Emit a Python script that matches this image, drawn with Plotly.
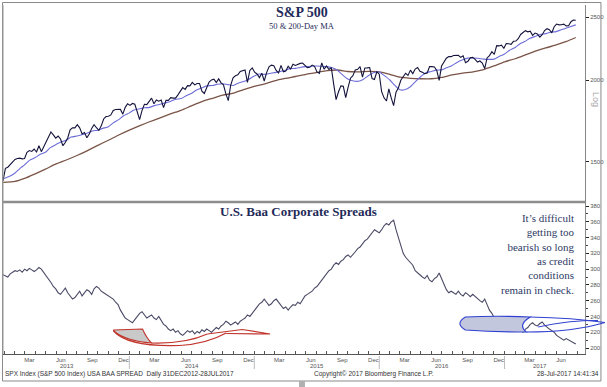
import pandas as pd
import plotly.graph_objects as go

# ---------------- data ----------------
spx_2012 = [1402]
spx_2013 = [1466,1472,1486,1503,1513,1518,1520,1516,1518,1551,1561,1556,1569,1553,1588,1555,1582,1614,1633,1667,1650,1631,1643,1626,1588,1606,1632,1680,1692,1691,1710,1691,1655,1664,1633,1655,1688,1710,1692,1676,1703,1745,1760,1762,1770,1798,1804,1806,1805,1775,1818,1841]
spx_2014 = [1831,1843,1838,1790,1741,1797,1838,1836,1859,1878,1841,1866,1858,1865,1816,1864,1863,1881,1878,1878,1900,1924,1949,1937,1963,1961,1985,1968,1978,1978,1925,1909,1955,1988,2003,2008,1985,2010,1982,1968,1906,1862,1965,2018,2032,2039,2064,2068,2075,1985,2071,2089]
spx_2015 = [2058,2045,2019,2051,1995,2055,2097,2110,2105,2071,2053,2108,2061,2067,2102,2081,2117,2108,2116,2123,2126,2107,2092,2094,2110,2101,2060,2050,2127,2080,2104,2078,2092,1971,1868,1921,1961,1958,1881,1951,2015,2033,2075,2079,2099,2023,2089,2090,2092,2012,2006,2061]
spx_2016 = [2044,1922,1880,1859,1940,1880,1829,1918,1948,2000,2022,2050,2035,2073,2048,2081,2092,2065,2057,2047,2052,2099,2099,2096,2071,2000,2103,2130,2162,2175,2174,2183,2184,2184,2169,2180,2128,2139,2165,2168,2153,2133,2141,2126,2085,2164,2182,2213,2192,2260,2258,2264,2239]
spx_2017 = [2277,2275,2271,2295,2297,2316,2351,2367,2383,2373,2378,2344,2363,2355,2329,2349,2384,2399,2391,2365,2416,2439,2432,2433,2438,2423,2425,2459,2473,2472]

baa_2012 = [293]
baa_2013 = [292,290,294,296, 298,297,299,296, 300,298,301,299,297, 299,302,300,296, 292,288,283,278,275, 270,268,272,276, 270,266,262,264, 268,272,266,270,274, 272,268,275,278, 276,272,270,268, 266,264,262,258,255, 248,242,238,236]
baa_2014 = [234,232,236,240,244, 246,242,238,240, 242,238,236,240, 235,230,228,224, 222,224,220,222,218, 216,219,222,220, 222,218,221,219, 223,221,224,222,220, 223,226,224,228, 230,234,232,229,231, 233,230,234,236, 238,242,240,244]
baa_2015 = [248,252,256,258,262, 258,254,256,260, 262,258,255,250, 252,248,252,255, 254,258,256,262,266, 268,270,272,276, 278,282,286,290,294, 298,300,305,308, 306,310,312,316, 318,315,318,322,326, 328,332,336,338, 342,346,350,348]
baa_2016 = [346,350,355,358,356, 360,362,350,340, 330,320,315,312, 308,305,298,295,292, 290,288,292,286, 284,288,290,295, 288,280,274,270,272, 270,268,272,268, 266,270,268,265,268, 265,262,260,258, 262,255,248,244, 238,232,230,234,236]
baa_2017 = [232,228,226,224, 222,225,222,220, 224,226,230,232,229, 228,231,233,229, 226,224,222,220, 216,214,212,210,212, 210,208,206,205]

ma50_dates = ["2012-12-28","2013-01-15","2013-02-01","2013-02-15","2013-03-01","2013-03-15","2013-04-01","2013-04-15","2013-05-01","2013-05-15","2013-06-01","2013-06-15","2013-07-01","2013-07-15","2013-08-01","2013-08-15","2013-09-01","2013-09-15","2013-10-01","2013-10-15","2013-11-01","2013-11-15","2013-12-01","2013-12-15",
              "2014-01-01","2014-01-15","2014-02-01","2014-02-15","2014-03-01","2014-03-15","2014-04-01","2014-04-15","2014-05-01","2014-05-15","2014-06-01","2014-06-15","2014-07-01","2014-07-15","2014-08-01","2014-08-15","2014-09-01","2014-09-15","2014-10-01","2014-10-15","2014-11-01","2014-11-15","2014-12-01","2014-12-15",
              "2015-01-01","2015-01-15","2015-02-01","2015-02-15","2015-03-01","2015-03-15","2015-04-01","2015-04-15","2015-05-01","2015-05-15","2015-06-01","2015-06-15","2015-07-01","2015-07-15","2015-08-01","2015-08-15","2015-09-01","2015-09-15","2015-10-01","2015-10-15","2015-11-01","2015-11-15","2015-12-01","2015-12-15",
              "2016-01-01","2016-01-15","2016-02-01","2016-02-15","2016-03-01","2016-03-15","2016-04-01","2016-04-15","2016-05-01","2016-05-15","2016-06-01","2016-06-15","2016-07-01","2016-07-15","2016-08-01","2016-08-15","2016-09-01","2016-09-15","2016-10-01","2016-10-15","2016-11-01","2016-11-15","2016-12-01","2016-12-15",
              "2017-01-01","2017-01-15","2017-02-01","2017-02-15","2017-03-01","2017-03-15","2017-04-01","2017-04-15","2017-05-01","2017-05-15","2017-06-01","2017-06-15","2017-07-01","2017-07-28"]
ma50_vals = [1413,1424,1442,1465,1484,1508,1523,1540,1552,1577,1595,1609,1619,1637,1643,1650,1661,1673,1677,1688,1698,1721,1741,1765,
             1783,1801,1809,1815,1818,1829,1838,1846,1856,1870,1875,1892,1909,1931,1948,1961,1964,1972,1976,1970,1964,1980,1991,2006,
             2030,2045,2042,2049,2055,2061,2072,2084,2086,2093,2099,2102,2103,2102,2099,2092,2072,2040,2009,1997,1993,2006,2034,2054,
             2060,2035,2002,1966,1935,1934,1955,1989,2025,2053,2063,2073,2075,2090,2108,2130,2150,2163,2164,2162,2155,2153,2155,2174,
             2195,2222,2245,2276,2293,2317,2336,2351,2358,2370,2375,2390,2405,2432]

ma200_dates = ["2012-12-28","2013-02-01","2013-03-01","2013-04-01","2013-05-01","2013-06-01","2013-07-01","2013-08-01","2013-09-01","2013-10-01","2013-11-01","2013-12-01",
               "2014-01-01","2014-02-01","2014-03-01","2014-04-01","2014-05-01","2014-06-01","2014-07-01","2014-08-01","2014-09-01","2014-10-01","2014-11-01","2014-12-01",
               "2015-01-01","2015-02-01","2015-03-01","2015-04-01","2015-05-01","2015-06-01","2015-07-01","2015-08-01","2015-09-01","2015-10-01","2015-11-01","2015-12-01",
               "2016-01-01","2016-02-01","2016-03-01","2016-04-01","2016-05-01","2016-06-01","2016-07-01","2016-08-01","2016-09-01","2016-10-01","2016-11-01","2016-12-01",
               "2017-01-01","2017-02-01","2017-03-01","2017-04-01","2017-05-01","2017-06-01","2017-07-01","2017-07-28"]
ma200_vals = [1395,1400,1415,1438,1462,1489,1510,1534,1561,1590,1619,1649,
              1678,1705,1728,1752,1776,1799,1827,1855,1877,1898,1911,1935,
              1957,1975,1996,2013,2027,2043,2055,2069,2074,2063,2061,2064,
              2061,2043,2022,2014,2011,2011,2021,2038,2051,2061,2077,2104,
              2134,2158,2185,2216,2242,2266,2294,2326]

years = [2013, 2014, 2015, 2016, 2017]
quarter_months = [("Mar", 3), ("Jun", 6), ("Sep", 9), ("Dec", 12)]
spx_ticks = [1500, 2000, 2500]
baa_ticks = [200, 220, 240, 260, 280, 300, 320, 340, 360, 380]

title_top = "S&P 500"
subtitle_top = "50 & 200-Day MA"
title_bottom = "U.S. Baa Corporate Spreads"
note_lines = ["It\u2019s difficult", "getting too", "bearish so long", "as credit", "conditions", "remain in check."]
footer_left = "SPX Index (S&P 500 Index) USA BAA SPREAD  Daily 31DEC2012-28JUL2017"
footer_mid = "Copyright\u00a9 2017 Bloomberg Finance L.P."
footer_right = "28-Jul-2017 14:41:34"

start_date = "2012-12-28"
end_date = "2017-07-28"

# ---------------- build ----------------
spx = spx_2012 + spx_2013 + spx_2014 + spx_2015 + spx_2016 + spx_2017
baa = baa_2012 + baa_2013 + baa_2014 + baa_2015 + baa_2016 + baa_2017
dates_spx = pd.date_range(start_date, periods=len(spx), freq="W-FRI")
dates_baa = pd.date_range(start_date, periods=len(baa), freq="W-FRI")

W, H = 607, 387
L, R, T, B = 3, 20, 5, 33
PW, PH = W - L - R, H - T - B
split = 152 / PH

def px(x, y):
    return f"{(x - L) / PW:.4f},{(H - B - y) / PH:.4f}"

def fy(y):
    return (H - B - y) / PH

def fx(x):
    return (x - L) / PW

fig = go.Figure()
fig.add_trace(go.Scatter(x=ma200_dates, y=ma200_vals, mode="lines", line=dict(color="#7a5447", width=1.3, shape="spline", smoothing=0.6), xaxis="x", yaxis="y", hoverinfo="skip"))
fig.add_trace(go.Scatter(x=ma50_dates, y=ma50_vals, mode="lines", line=dict(color="#6c6cd8", width=1.1, shape="spline", smoothing=0.6), xaxis="x", yaxis="y", hoverinfo="skip"))
fig.add_trace(go.Scatter(x=dates_spx, y=spx, mode="lines", line=dict(color="#14143c", width=1.1), xaxis="x", yaxis="y"))
fig.add_trace(go.Scatter(x=dates_baa, y=baa, mode="lines", line=dict(color="#4a4a66", width=1.1), xaxis="x2", yaxis="y2"))

xr = ["2012-12-28", "2017-08-24"]
tickvals, ticktext = [], []
for yv in years:
    for name, m in quarter_months:
        d = pd.Timestamp(yv, m, 15)
        if d <= pd.Timestamp(end_date):
            tickvals.append(d)
            ticktext.append(name)

axfont = dict(family="Liberation Sans", size=6, color="#555")
fig.update_layout(
    width=W, height=H, margin=dict(l=L, r=R, t=T, b=B),
    paper_bgcolor="white", plot_bgcolor="white", showlegend=False,
    xaxis=dict(domain=[0, 1], range=xr, type="date", anchor="y", matches="x2", showticklabels=False,
               showgrid=False, zeroline=False, showline=False, ticks=""),
    xaxis2=dict(domain=[0, 1], range=xr, type="date", anchor="y2", tickvals=tickvals, ticktext=ticktext,
                tickfont=axfont, ticks="", showgrid=False, zeroline=False, showline=True, linecolor="#555", linewidth=1,
                minor=dict(dtick="M1", tick0="2013-01-01", ticks="inside", ticklen=3, tickcolor="#555", showgrid=False),
                ticklabelstandoff=0),
    yaxis=dict(domain=[split, 1], type="log", range=[3.1146, 3.4164], side="right", anchor="x",
               tickvals=spx_ticks, ticktext=[str(v) for v in spx_ticks], tickfont=axfont,
               ticks="outside", ticklen=3, tickcolor="#222", showline=True, linecolor="#888", linewidth=1,
               showgrid=False, zeroline=False),
    yaxis2=dict(domain=[0, split], range=[192.4, 385.1], side="right", anchor="x2",
                tickvals=baa_ticks, ticktext=[str(v) for v in baa_ticks], tickfont=axfont,
                ticks="outside", ticklen=3, tickcolor="#222", showline=True, linecolor="#888", linewidth=1,
                minor=dict(dtick=10, ticks="outside", ticklen=2, tickcolor="#444"),
                showgrid=False, zeroline=False),
)

shapes = []
shapes.append(dict(type="rect", xref="paper", yref="paper", x0=fx(2.5), x1=fx(603), y0=fy(381), y1=fy(2.5),
                   line=dict(color="#8a8a8a", width=1), fillcolor="rgba(0,0,0,0)", layer="above"))
shapes.append(dict(type="line", xref="paper", yref="paper", x0=fx(2.5), x1=fx(587), y0=split, y1=split,
                   line=dict(color="#8c8c8c", width=2.5)))
shapes.append(dict(type="line", xref="paper", yref="paper", x0=0, x1=0, y0=0, y1=1, line=dict(color="#999", width=1)))
for yv in years[1:]:
    shapes.append(dict(type="line", xref="x2", yref="paper", x0=f"{yv}-01-01", x1=f"{yv}-01-01",
                       y0=fy(356), y1=fy(369), line=dict(color="#bbbbbb", width=1)))
shapes.append(dict(type="rect", xref="paper", yref="paper", x0=fx(300), x1=fx(306), y0=fy(387), y1=fy(381),
                   fillcolor="#b0b0b0", line=dict(width=0)))

red = "#c0352c"
shapes.append(dict(type="path", xref="paper", yref="paper",
                   path=f"M {px(114,330)} L {px(143,329)} Q {px(147,338)} {px(152,343)} Q {px(126,341)} {px(114,331)} Z",
                   fillcolor="#c9c9c9", line=dict(color=red, width=1.1)))
shapes.append(dict(type="path", xref="paper", yref="paper",
                   path=f"M {px(114,331)} Q {px(128,347)} {px(180,345.5)} Q {px(207,344)} {px(227,333)}",
                   line=dict(color=red, width=1.2)))
shapes.append(dict(type="path", xref="paper", yref="paper",
                   path=f"M {px(152,343)} Q {px(186,344)} {px(208,334)}",
                   line=dict(color=red, width=1.2)))
shapes.append(dict(type="path", xref="paper", yref="paper",
                   path=f"M {px(208,334)} L {px(243,329.5)} L {px(271,334)} L {px(227,333.5)}",
                   line=dict(color=red, width=1.2)))

blue = "#3040d0"
shapes.append(dict(type="path", xref="paper", yref="paper",
                   path=f"M {px(467,317)} Q {px(499,315.5)} {px(532,317)} Q {px(519,325)} {px(528,332)} Q {px(497,332)} {px(467,330)} Q {px(456,323.5)} {px(467,317)} Z",
                   fillcolor="#c3c7de", line=dict(color=blue, width=1.1)))
shapes.append(dict(type="path", xref="paper", yref="paper",
                   path=f"M {px(532,317)} Q {px(575,318)} {px(607,322.5)}",
                   line=dict(color=blue, width=1.2)))
shapes.append(dict(type="path", xref="paper", yref="paper",
                   path=f"M {px(528,332)} Q {px(575,332)} {px(607,322.5)}",
                   line=dict(color=blue, width=1.2)))
shapes.append(dict(type="path", xref="paper", yref="paper",
                   path=f"M {px(540,327)} Q {px(572,320)} {px(600,320.5)}",
                   line=dict(color=blue, width=1)))
fig.update_layout(shapes=shapes)

ann = []
serif = "Liberation Serif"
navy = "#1f2b58"
ann.append(dict(text=f"<b>{title_top}</b>", x=fx(303), y=fy(13), xref="paper", yref="paper", showarrow=False,
                font=dict(family=serif, size=14, color=navy), xanchor="center", yanchor="middle"))
ann.append(dict(text=subtitle_top, x=fx(303), y=fy(26), xref="paper", yref="paper", showarrow=False,
                font=dict(family=serif, size=8.5, color=navy), xanchor="center", yanchor="middle"))
ann.append(dict(text=f"<b>{title_bottom}</b>", x=fx(300), y=fy(212), xref="paper", yref="paper", showarrow=False,
                font=dict(family=serif, size=13, color=navy), xanchor="center", yanchor="middle"))
ann.append(dict(text="<br>".join(note_lines), x=fx(578), y=fy(210), xref="paper", yref="paper", showarrow=False,
                font=dict(family=serif, size=11, color="#2e3a66"), xanchor="right", yanchor="top", align="right"))
ann.append(dict(text="Log", x=fx(598), y=fy(100), xref="paper", yref="paper", showarrow=False, textangle=90,
                font=dict(family="Liberation Sans", size=9, color="#aaaaaa"), xanchor="center", yanchor="middle"))
for yv in years:
    a = max(pd.Timestamp(yv, 1, 1), pd.Timestamp(start_date))
    b = min(pd.Timestamp(yv, 12, 31), pd.Timestamp(end_date))
    mid = a + (b - a) / 2
    ann.append(dict(text=str(yv), x=mid, y=fy(366), xref="x2", yref="paper", showarrow=False,
                    font=axfont, xanchor="center", yanchor="middle"))
ffont = dict(family="Liberation Sans", size=6.5, color="#333")
ann.append(dict(text=footer_left, x=fx(3), y=fy(373.5), xref="paper", yref="paper", showarrow=False, font=ffont, xanchor="left", yanchor="middle"))
ann.append(dict(text=footer_mid, x=fx(375), y=fy(373.5), xref="paper", yref="paper", showarrow=False, font=ffont, xanchor="center", yanchor="middle"))
ann.append(dict(text=footer_right, x=fx(603), y=fy(373.5), xref="paper", yref="paper", showarrow=False, font=ffont, xanchor="right", yanchor="middle"))
fig.update_layout(annotations=ann)

fig.write_html("out.html", config={"displayModeBar": False},
               post_script="document.body.style.margin='0';document.body.style.padding='0';document.body.style.overflow='hidden';")
